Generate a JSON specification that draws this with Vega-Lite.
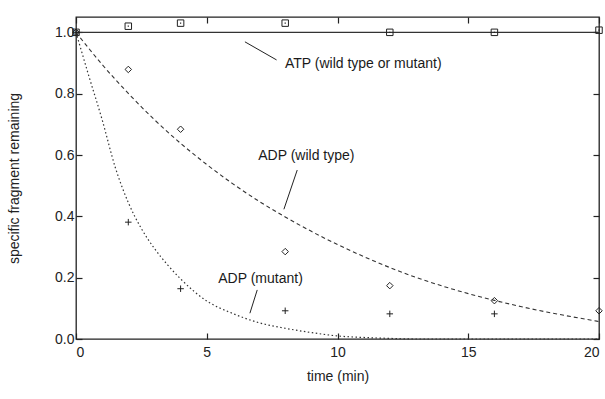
{
  "$schema": "https://vega.github.io/schema/vega-lite/v6.json",
  "width": 523,
  "height": 322,
  "autosize": {"type": "none"},
  "padding": {"left": 76, "top": 17, "right": 6, "bottom": 60},
  "background": "white",
  "config": {
    "font": "Liberation Sans",
    "view": {"stroke": "#222", "strokeWidth": 1.3},
    "axis": {
      "grid": false,
      "domain": false,
      "tickColor": "#222",
      "tickSize": -6,
      "tickWidth": 1.2,
      "labelFont": "Liberation Sans",
      "labelFontSize": 14,
      "labelColor": "#222",
      "titleFont": "Liberation Sans",
      "titleFontSize": 14,
      "titleFontWeight": "normal",
      "titleColor": "#222"
    }
  },
  "datasets": {
    "pts": [
      {"t": 0, "v": 1.0, "series": "ATP"},
      {"t": 2, "v": 1.02, "series": "ATP"},
      {"t": 4, "v": 1.03, "series": "ATP"},
      {"t": 8, "v": 1.03, "series": "ATP"},
      {"t": 12, "v": 1.0, "series": "ATP"},
      {"t": 16, "v": 1.0, "series": "ATP"},
      {"t": 20, "v": 1.007, "series": "ATP"},
      {"t": 0, "v": 1.0, "series": "ADP wild type"},
      {"t": 2, "v": 0.879, "series": "ADP wild type"},
      {"t": 4, "v": 0.684, "series": "ADP wild type"},
      {"t": 8, "v": 0.285, "series": "ADP wild type"},
      {"t": 12, "v": 0.174, "series": "ADP wild type"},
      {"t": 16, "v": 0.125, "series": "ADP wild type"},
      {"t": 20, "v": 0.092, "series": "ADP wild type"},
      {"t": 0, "v": 1.0, "series": "ADP mutant"},
      {"t": 2, "v": 0.381, "series": "ADP mutant"},
      {"t": 4, "v": 0.164, "series": "ADP mutant"},
      {"t": 8, "v": 0.092, "series": "ADP mutant"},
      {"t": 12, "v": 0.082, "series": "ADP mutant"},
      {"t": 16, "v": 0.082, "series": "ADP mutant"}
    ],
    "curves": [
      {"t": 0, "v": 1.0, "curve": "ATP"},
      {"t": 20, "v": 1.0, "curve": "ATP"},
      {"t": 0, "v": 1.0, "curve": "WT"},
      {"t": 1, "v": 0.895, "curve": "WT"},
      {"t": 2, "v": 0.801, "curve": "WT"},
      {"t": 3, "v": 0.715, "curve": "WT"},
      {"t": 4, "v": 0.638, "curve": "WT"},
      {"t": 5, "v": 0.569, "curve": "WT"},
      {"t": 6, "v": 0.506, "curve": "WT"},
      {"t": 7, "v": 0.449, "curve": "WT"},
      {"t": 8, "v": 0.398, "curve": "WT"},
      {"t": 9, "v": 0.351, "curve": "WT"},
      {"t": 10, "v": 0.308, "curve": "WT"},
      {"t": 11, "v": 0.269, "curve": "WT"},
      {"t": 12, "v": 0.233, "curve": "WT"},
      {"t": 13, "v": 0.201, "curve": "WT"},
      {"t": 14, "v": 0.173, "curve": "WT"},
      {"t": 15, "v": 0.148, "curve": "WT"},
      {"t": 16, "v": 0.126, "curve": "WT"},
      {"t": 17, "v": 0.106, "curve": "WT"},
      {"t": 18, "v": 0.088, "curve": "WT"},
      {"t": 19, "v": 0.072, "curve": "WT"},
      {"t": 20, "v": 0.057, "curve": "WT"},
      {"t": 0, "v": 1.0, "curve": "MUT"},
      {"t": 0.5, "v": 0.855, "curve": "MUT"},
      {"t": 1, "v": 0.715, "curve": "MUT"},
      {"t": 1.5, "v": 0.56, "curve": "MUT"},
      {"t": 2, "v": 0.445, "curve": "MUT"},
      {"t": 2.5, "v": 0.36, "curve": "MUT"},
      {"t": 3, "v": 0.295, "curve": "MUT"},
      {"t": 3.5, "v": 0.242, "curve": "MUT"},
      {"t": 4, "v": 0.196, "curve": "MUT"},
      {"t": 5, "v": 0.124, "curve": "MUT"},
      {"t": 6, "v": 0.083, "curve": "MUT"},
      {"t": 7, "v": 0.053, "curve": "MUT"},
      {"t": 8, "v": 0.035, "curve": "MUT"},
      {"t": 9, "v": 0.021, "curve": "MUT"},
      {"t": 10, "v": 0.01, "curve": "MUT"},
      {"t": 11, "v": 0.005, "curve": "MUT"},
      {"t": 12, "v": 0.002, "curve": "MUT"},
      {"t": 13, "v": 0.0, "curve": "MUT"},
      {"t": 20, "v": 0.0, "curve": "MUT"}
    ],
    "leaders": [
      {"x": 6.46, "y": 0.969, "x2": 7.67, "y2": 0.91},
      {"x": 8.46, "y": 0.551, "x2": 7.95, "y2": 0.423},
      {"x": 6.93, "y": 0.16, "x2": 6.65, "y2": 0.084}
    ],
    "labels": [
      {"x": 7.99, "y": 0.885, "text": "ATP (wild type or mutant)"},
      {"x": 6.97, "y": 0.584, "text": "ADP (wild type)"},
      {"x": 5.44, "y": 0.184, "text": "ADP (mutant)"}
    ]
  },
  "resolve": {"axis": {"x": "independent", "y": "independent"}},
  "layer": [
    {
      "data": {"name": "curves"},
      "transform": [{"filter": "datum.curve === 'ATP'"}],
      "mark": {"type": "line", "color": "#333", "strokeWidth": 1.2},
      "encoding": {
        "x": {"field": "t", "type": "quantitative", "scale": {"domain": [0, 20], "nice": false},
          "axis": {"orient": "bottom", "values": [0, 5, 10, 15, 20], "title": "time (min)", "labelPadding": 12, "titlePadding": 10}},
        "y": {"field": "v", "type": "quantitative", "scale": {"domain": [0, 1.05], "nice": false, "zero": false},
          "axis": {"orient": "left", "values": [0, 0.2, 0.4, 0.6, 0.8, 1.0], "format": ".1f", "title": "specific fragment remaining", "labelPadding": 8, "titlePadding": 33}}
      }
    },
    {
      "data": {"name": "curves"},
      "transform": [{"filter": "datum.curve === 'WT'"}],
      "mark": {"type": "line", "color": "#333", "strokeWidth": 1.1, "strokeDash": [4, 3], "interpolate": "monotone"},
      "encoding": {
        "x": {"field": "t", "type": "quantitative",
          "axis": {"orient": "top", "values": [0, 5, 10, 15, 20], "labels": false, "title": null}},
        "y": {"field": "v", "type": "quantitative",
          "axis": {"orient": "right", "values": [0, 0.2, 0.4, 0.6, 0.8, 1.0], "labels": false, "title": null}}
      }
    },
    {
      "data": {"name": "curves"},
      "transform": [{"filter": "datum.curve === 'MUT'"}],
      "mark": {"type": "line", "color": "#333", "strokeWidth": 1.2, "strokeDash": [1.5, 2.5], "interpolate": "monotone"},
      "encoding": {
        "x": {"field": "t", "type": "quantitative", "axis": null},
        "y": {"field": "v", "type": "quantitative", "axis": null}
      }
    },
    {
      "data": {"name": "pts"},
      "mark": {"type": "point", "filled": false, "strokeWidth": 1, "color": "#222", "opacity": 1},
      "encoding": {
        "x": {"field": "t", "type": "quantitative", "axis": null},
        "y": {"field": "v", "type": "quantitative", "axis": null},
        "shape": {"field": "series", "type": "nominal", "legend": null,
          "scale": {"domain": ["ATP", "ADP wild type", "ADP mutant"], "range": ["square", "diamond", "M-1,0H1M0,-1V1"]}},
        "size": {"field": "series", "type": "nominal", "legend": null,
          "scale": {"domain": ["ATP", "ADP wild type", "ADP mutant"], "range": [42, 42, 49]}}
      }
    },
    {
      "data": {"name": "pts"},
      "transform": [{"filter": "datum.series === 'ATP'"}],
      "mark": {"type": "point", "filled": true, "shape": "square", "size": 1.5, "color": "#222", "opacity": 1},
      "encoding": {
        "x": {"field": "t", "type": "quantitative", "axis": null},
        "y": {"field": "v", "type": "quantitative", "axis": null}
      }
    },
    {
      "data": {"name": "leaders"},
      "mark": {"type": "rule", "color": "#222", "strokeWidth": 1},
      "encoding": {
        "x": {"field": "x", "type": "quantitative", "axis": null},
        "y": {"field": "y", "type": "quantitative", "axis": null},
        "x2": {"field": "x2"},
        "y2": {"field": "y2"}
      }
    },
    {
      "data": {"name": "labels"},
      "mark": {"type": "text", "align": "left", "baseline": "alphabetic", "fontSize": 14, "font": "Liberation Sans", "color": "#1a1a1a"},
      "encoding": {
        "x": {"field": "x", "type": "quantitative", "axis": null},
        "y": {"field": "y", "type": "quantitative", "axis": null},
        "text": {"field": "text"}
      }
    }
  ]
}
